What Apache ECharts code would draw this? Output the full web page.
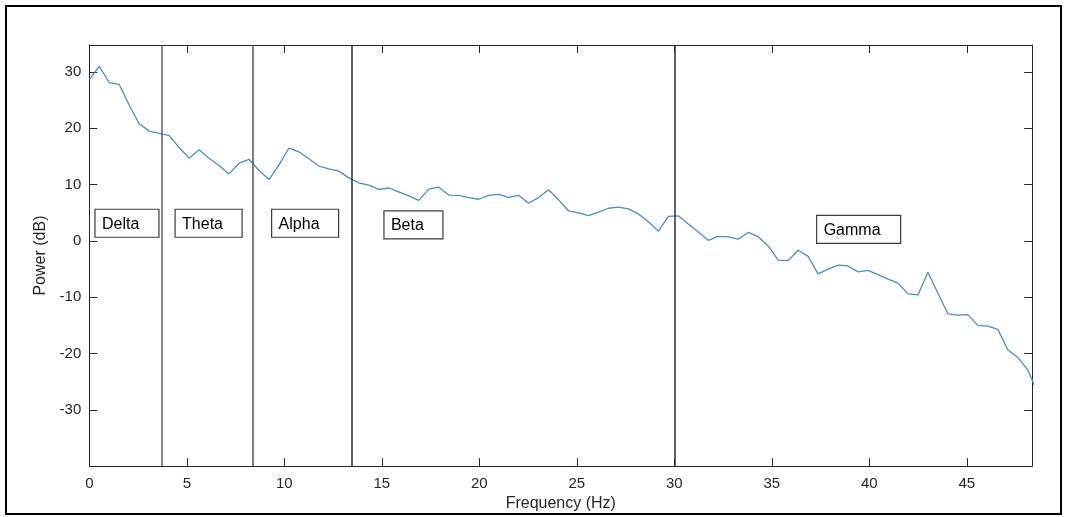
<!DOCTYPE html>
<html>
<head>
<meta charset="utf-8">
<title>EEG power spectrum</title>
<script src="https://cdn.jsdelivr.net/npm/echarts@6/dist/echarts.min.js"></script>
<style>
  html, body { margin: 0; padding: 0; background: #fff; }
  #chart { width: 1065px; height: 517px; }
</style>
</head>
<body>
<div id="chart"></div>
<script>
// Frequency bins (Hz) of the spectrum
const freqHz = [
  0, 0.512, 1.024, 1.536, 2.048, 2.56, 3.072, 3.584, 4.096, 4.608,
  5.12, 5.632, 6.144, 6.656, 7.168, 7.68, 8.192, 8.704, 9.216, 9.728,
  10.24, 10.752, 11.264, 11.776, 12.288, 12.8, 13.312, 13.824, 14.336, 14.848,
  15.36, 15.872, 16.384, 16.896, 17.408, 17.92, 18.432, 18.944, 19.456, 19.968,
  20.48, 20.992, 21.504, 22.016, 22.528, 23.04, 23.552, 24.064, 24.576, 25.088,
  25.6, 26.112, 26.624, 27.136, 27.648, 28.16, 28.672, 29.184, 29.696, 30.208,
  30.72, 31.232, 31.744, 32.256, 32.768, 33.28, 33.792, 34.304, 34.816, 35.328,
  35.84, 36.352, 36.864, 37.376, 37.888, 38.4, 38.912, 39.424, 39.936, 40.448,
  40.96, 41.472, 41.984, 42.496, 43.008, 43.52, 44.032, 44.544, 45.056, 45.568,
  46.08, 46.592, 47.104, 47.616, 48.128, 48.64
];

// Power spectral density (dB) at each bin
const powerDb = [
  28.7, 31.0, 28.1, 27.8, 24.1, 20.8, 19.5, 19.1, 18.7, 16.6,
  14.7, 16.2, 14.7, 13.4, 11.9, 13.8, 14.5, 12.5, 10.9, 13.5,
  16.5, 15.8, 14.6, 13.3, 12.8, 12.4, 11.2, 10.3, 9.9, 9.15,
  9.4, 8.7, 8.0, 7.2, 9.2, 9.55, 8.15, 8.1, 7.7, 7.4,
  8.1, 8.25, 7.75, 8.1, 6.7, 7.7, 9.1, 7.3, 5.35, 5.0,
  4.5, 5.1, 5.8, 6.0, 5.7, 4.8, 3.4, 1.7, 4.35, 4.45,
  3.0, 1.6, 0.1, 0.8, 0.7, 0.3, 1.5, 0.75, -0.9, -3.4,
  -3.5, -1.65, -2.75, -5.85, -5.0, -4.3, -4.45, -5.5, -5.25, -6.0,
  -6.8, -7.5, -9.4, -9.6, -5.55, -9.3, -12.95, -13.2, -13.1, -15.0,
  -15.15, -15.7, -19.35, -20.7, -22.9, -27.1
];

// EEG band names and the boundaries (Hz) between neighbouring bands
const bandNames = ['Delta', 'Theta', 'Alpha', 'Beta', 'Gamma'];
const bandEdges = [3.74, 8.36, 13.44, 30];

// Axis limits and tick labels
const xRange = [0, 48.36];
const yRange = [-40, 34.8];
const xTicks = [0, 5, 10, 15, 20, 25, 30, 35, 40, 45];
const yTicks = [-30, -20, -10, 0, 10, 20, 30];

// Label boxes: top-left corner in data units, size in pixels
const bandBoxes = [
  { at: [0.29, 5.62], w: 64, h: 28 },
  { at: [4.40, 5.62], w: 67, h: 28 },
  { at: [9.35, 5.62], w: 67, h: 28 },
  { at: [15.11, 5.33], w: 59, h: 28 },
  { at: [37.30, 4.53], w: 84, h: 28 }
];

// Stroke colour of each band boundary line
const edgeColors = ['#5e5e5e', '#555555', '#2e2e2e', '#2e2e2e'];

const FONT = "'Liberation Sans', Arial, Helvetica, sans-serif";
const INK = '#262626';

const chart = echarts.init(document.getElementById('chart'), null, { renderer: 'canvas' });

const tickStyle = { inside: true, length: 8, lineStyle: { color: INK, width: 1 } };

function valueAxis(position, range, ticks, withLabels, margin, extra) {
  return Object.assign({
    type: 'value',
    position: position,
    min: range[0],
    max: range[1],
    axisLine: { show: true, onZero: false, lineStyle: { color: INK, width: 1 } },
    axisTick: Object.assign({ show: true, customValues: ticks }, tickStyle),
    axisLabel: withLabels
      ? { show: true, customValues: ticks, color: INK, fontSize: 15, fontFamily: FONT, margin: margin }
      : { show: false },
    splitLine: { show: false }
  }, extra || {});
}

chart.setOption({
  animation: false,
  backgroundColor: '#ffffff',
  grid: { left: 89.3, right: 32.7, top: 45, bottom: 44.9, containLabel: false },
  xAxis: [
    valueAxis('bottom', xRange, xTicks, true, 10, {
      name: 'Frequency (Hz)',
      nameLocation: 'middle',
      nameGap: 28,
      nameTextStyle: { color: INK, fontSize: 16, fontFamily: FONT }
    }),
    valueAxis('top', xRange, xTicks, false, 0)
  ],
  yAxis: [
    valueAxis('left', yRange, yTicks, true, 8, {
      name: 'Power (dB)',
      nameLocation: 'middle',
      nameRotate: 90,
      nameGap: 32,
      nameTextStyle: { color: INK, fontSize: 16, fontFamily: FONT }
    }),
    valueAxis('right', yRange, yTicks, false, 0)
  ],
  series: [{
    type: 'line',
    xAxisIndex: 0,
    yAxisIndex: 0,
    data: freqHz.map((f, i) => [f, powerDb[i]]),
    showSymbol: false,
    clip: true,
    lineStyle: { color: '#4690c2', width: 1.3 },
    markLine: {
      silent: true,
      symbol: ['none', 'none'],
      label: { show: false },
      lineStyle: { width: 1.5, type: 'solid' },
      data: bandEdges.map((x, i) => ({ xAxis: x, lineStyle: { color: edgeColors[i] } }))
    }
  }]
});

// Band label boxes and the outer frame
const graphics = [{
  type: 'rect',
  shape: { x: 6, y: 6, width: 1055, height: 508 },
  style: { fill: 'none', stroke: '#000', lineWidth: 2 },
  silent: true
}];
bandBoxes.forEach((b, i) => {
  const p = chart.convertToPixel({ gridIndex: 0 }, b.at);
  graphics.push({
    type: 'rect',
    shape: { x: p[0], y: p[1], width: b.w, height: b.h },
    style: { fill: '#fff', stroke: '#3c3c3c', lineWidth: 1.2 },
    silent: true
  });
  graphics.push({
    type: 'text',
    x: p[0] + 7,
    y: p[1] + b.h / 2 + 1,
    style: {
      text: bandNames[i],
      font: '16px ' + FONT,
      fill: '#000',
      verticalAlign: 'middle',
      align: 'left'
    },
    silent: true
  });
});
chart.setOption({ graphic: graphics });
</script>
</body>
</html>
